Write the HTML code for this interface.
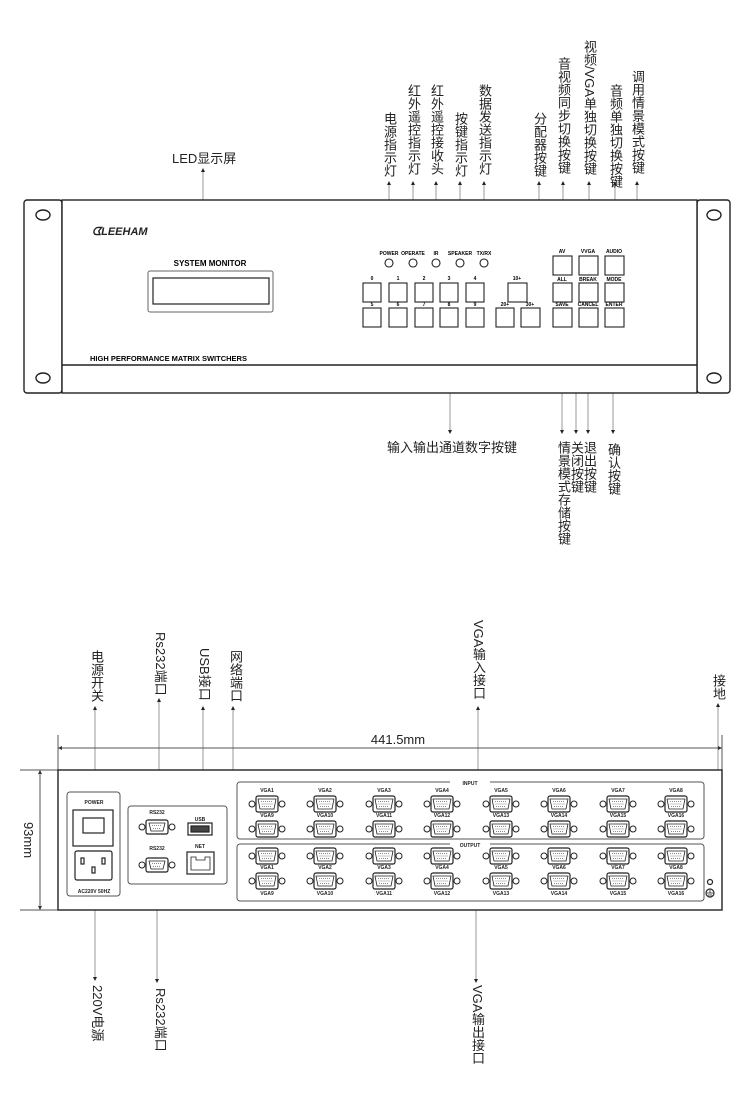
<!DOCTYPE html>
<html><head><meta charset="utf-8"><style>
html,body{margin:0;padding:0;background:#fff;}
#w{position:relative;width:750px;height:1110px;overflow:hidden;font-family:"Liberation Sans","Noto Sans CJK SC",sans-serif;color:#222;}
.v{position:absolute;width:14px;font-size:13px;line-height:14px;writing-mode:vertical-rl;text-orientation:upright;letter-spacing:0;white-space:nowrap;}
.s{text-orientation:sideways;}
.m{text-orientation:mixed;}
.h{position:absolute;font-size:13px;white-space:nowrap;}
svg{position:absolute;left:0;top:0;}
</style></head><body><div id="w">
<svg width="750" height="1110" viewBox="0 0 750 1110" font-family="Liberation Sans, sans-serif">
<defs>
<g id="db">
<circle cx="-15" cy="0" r="3" fill="#fff" stroke="#222" stroke-width="1"/>
<circle cx="15" cy="0" r="3" fill="#fff" stroke="#222" stroke-width="1"/>
<rect x="-11" y="-8" width="22" height="16" rx="2" fill="#fff" stroke="#222" stroke-width="1.2"/>
<path d="M-9,-5 H9 L7,5 H-7 Z" fill="#fff" stroke="#222" stroke-width="0.8"/>
<path d="M-6,-2.5 H6 M-5.5,0 H5.5 M-5,2.5 H5" stroke="#666" stroke-width="0.7" stroke-dasharray="1,1"/>
</g>
<g id="d9">
<circle cx="-15" cy="0" r="3" fill="#fff" stroke="#222" stroke-width="1"/>
<circle cx="15" cy="0" r="3" fill="#fff" stroke="#222" stroke-width="1"/>
<rect x="-11" y="-7" width="22" height="14" rx="2" fill="#fff" stroke="#222" stroke-width="1.2"/>
<path d="M-8,-4 H8 L6,4 H-6 Z" fill="#fff" stroke="#222" stroke-width="0.8"/>
<path d="M-5,-1.5 H5 M-4,1.5 H4" stroke="#666" stroke-width="0.7" stroke-dasharray="1,1"/>
</g>
</defs>
<g stroke="#999" stroke-width="1" fill="none">
<!-- top label lines -->
<path d="M203,170 V263"/>
<path d="M389,183 V248 M413,183 V248 M436,183 V248 M460,183 V248 M484,183 V248"/>
<path d="M539,183 V290 H553"/>
<path d="M563,183 V256 M589,183 V256 M615,183 V256"/>
<path d="M637,183 V290 H623"/>
<path d="M370,327 V347 H530 V327 M450,347 V432"/>
<path d="M562,327 V432 M576,432 V287 H578 M588,327 V432 M613,327 V432"/>
<!-- rear lines -->
<path d="M95,708 V810 M95,880 V978"/>
<path d="M159,700 V820 M157,872 V980"/>
<path d="M203,708 V823 M233,708 V863 H214"/>
<path d="M478,708 V782 M476,901 V980 M718,705 V880"/>
</g>
<g fill="#222">
<path d="M389,181 l-2,4 h4z M413,181 l-2,4 h4z M436,181 l-2,4 h4z M460,181 l-2,4 h4z M484,181 l-2,4 h4z M539,181 l-2,4 h4z M563,181 l-2,4 h4z M589,181 l-2,4 h4z M615,181 l-2,4 h4z M637,181 l-2,4 h4z M203,168 l-2,4 h4z"/>
<path d="M450,434 l-2,-4 h4z M562,434 l-2,-4 h4z M576,434 l-2,-4 h4z M588,434 l-2,-4 h4z M613,434 l-2,-4 h4z"/>
<path d="M95,706 l-2,4 h4z M159,698 l-2,4 h4z M203,706 l-2,4 h4z M233,706 l-2,4 h4z M478,706 l-2,4 h4z M718,703 l-2,4 h4z"/>
<path d="M95,981 l-2,-4 h4z M157,983 l-2,-4 h4z M476,983 l-2,-4 h4z"/>
</g>
<!-- FRONT PANEL -->
<g stroke="#222" fill="#fff" stroke-width="1.4">
<rect x="24" y="200" width="38" height="193" rx="3"/>
<rect x="697" y="200" width="33" height="193" rx="3"/>
<rect x="62" y="200" width="635" height="193"/>
<line x1="62" y1="365" x2="697" y2="365"/>
<ellipse cx="43" cy="215" rx="7" ry="5"/><ellipse cx="43" cy="378" rx="7" ry="5"/>
<ellipse cx="714" cy="215" rx="7" ry="5"/><ellipse cx="714" cy="378" rx="7" ry="5"/>
<rect x="148" y="271" width="125" height="41" rx="2" stroke="#666" stroke-width="1"/>
<rect x="153" y="278" width="116" height="26" stroke-width="1.2"/>
</g>
<text x="92" y="235" font-size="11" font-weight="bold" font-style="italic" fill="#222">ᗧLEEHAM</text>
<text x="210" y="266" font-size="8" font-weight="bold" text-anchor="middle">SYSTEM MONITOR</text>
<text x="90" y="361" font-size="7.5" font-weight="bold">HIGH PERFORMANCE MATRIX SWITCHERS</text>
<g font-size="5" font-weight="bold" text-anchor="middle">
<text x="389" y="255">POWER</text><text x="413" y="255">OPERATE</text><text x="436" y="255">IR</text><text x="460" y="255">SPEAKER</text><text x="484" y="255">TX/RX</text>
<text x="372" y="280">0</text><text x="398" y="280">1</text><text x="424" y="280">2</text><text x="449" y="280">3</text><text x="475" y="280">4</text><text x="517" y="280">10+</text>
<text x="372" y="306">5</text><text x="398" y="306">6</text><text x="424" y="306">7</text><text x="449" y="306">8</text><text x="475" y="306">9</text><text x="505" y="306">20+</text><text x="530" y="306">30+</text>
<text x="562" y="253">AV</text><text x="588" y="253">VVGA</text><text x="614" y="253">AUDIO</text>
<text x="562" y="281">ALL</text><text x="588" y="281">BREAK</text><text x="614" y="281">MODE</text>
<text x="562" y="306">SAVE</text><text x="588" y="306">CANCEL</text><text x="614" y="306">ENTER</text>
</g>
<g fill="#fff" stroke="#222" stroke-width="1.1">
<circle cx="389" cy="263" r="4"/><circle cx="413" cy="263" r="4"/><circle cx="436" cy="263" r="4"/><circle cx="460" cy="263" r="4"/><circle cx="484" cy="263" r="4"/>
<rect x="363" y="283" width="18" height="19"/><rect x="389" y="283" width="18" height="19"/><rect x="415" y="283" width="18" height="19"/><rect x="440" y="283" width="18" height="19"/><rect x="466" y="283" width="18" height="19"/>
<rect x="508" y="283" width="19" height="19"/>
<rect x="363" y="308" width="18" height="19"/><rect x="389" y="308" width="18" height="19"/><rect x="415" y="308" width="18" height="19"/><rect x="440" y="308" width="18" height="19"/><rect x="466" y="308" width="18" height="19"/>
<rect x="496" y="308" width="18" height="19"/><rect x="521" y="308" width="19" height="19"/>
<rect x="553" y="256" width="19" height="19"/><rect x="579" y="256" width="19" height="19"/><rect x="605" y="256" width="19" height="19"/>
<rect x="553" y="283" width="19" height="19"/><rect x="579" y="283" width="19" height="19"/><rect x="605" y="283" width="19" height="19"/>
<rect x="553" y="308" width="19" height="19"/><rect x="579" y="308" width="19" height="19"/><rect x="605" y="308" width="19" height="19"/>
</g>
<!-- DIMENSIONS -->
<g stroke="#555" stroke-width="1" fill="none">
<path d="M58,735 V770 M722,735 V770 M58,748 H722 M20,770 H58 M20,910 H58 M40,770 V910"/>
</g>
<path d="M58,748 l4,-2 v4z M722,748 l-4,-2 v4z M40,770 l-2,4 h4z M40,910 l-2,-4 h4z" fill="#333"/>
<text x="398" y="744" font-size="13" text-anchor="middle" fill="#222">441.5mm</text>
<text transform="translate(24,840) rotate(90)" font-size="13" text-anchor="middle" fill="#222">93mm</text>
<!-- REAR PANEL -->
<rect x="58" y="770" width="664" height="140" fill="#fff" stroke="#222" stroke-width="1.4"/>
<g fill="#fff" stroke="#555" stroke-width="1">
<rect x="67" y="792" width="53" height="104" rx="3"/>
<rect x="128" y="806" width="99" height="78" rx="3"/>
<rect x="237" y="782" width="467" height="57" rx="3"/>
<rect x="237" y="844" width="467" height="57" rx="3"/>
</g>
<g fill="#fff" stroke="#222" stroke-width="1.2">
<rect x="73" y="810" width="40" height="36"/><rect x="83" y="818" width="21" height="15"/>
<rect x="75" y="851" width="37" height="29" rx="2"/>
<rect x="81" y="858" width="3" height="6"/><rect x="102" y="858" width="3" height="6"/><rect x="92" y="867" width="3" height="6"/>
<rect x="188" y="823" width="24" height="12"/><rect x="191" y="826" width="18" height="6" fill="#444"/>
<rect x="187" y="852" width="27" height="22"/><path d="M191,870 V857 H196 V860 H205 V857 H210 V870 Z" stroke-width="0.8"/>
<circle cx="710" cy="882" r="2.5"/><circle cx="710" cy="893" r="4"/>
</g>
<path d="M710,890 v3 M707,893 h6 M708,895 h4" stroke="#222" stroke-width="0.8"/>
<rect x="450" y="779" width="40" height="7" fill="#fff"/><rect x="450" y="841" width="40" height="7" fill="#fff"/>
<g font-size="5" font-weight="bold" text-anchor="middle" fill="#222">
<text x="94" y="804">POWER</text><text x="94" y="893">AC220V  50HZ</text>
<text x="157" y="814">RS232</text><text x="200" y="821">USB</text><text x="157" y="850">RS232</text><text x="200" y="848">NET</text>
<text x="470" y="785">INPUT</text><text x="470" y="847">OUTPUT</text>
<text x="267" y="792">VGA1</text><text x="325" y="792">VGA2</text><text x="384" y="792">VGA3</text><text x="442" y="792">VGA4</text><text x="501" y="792">VGA5</text><text x="559" y="792">VGA6</text><text x="618" y="792">VGA7</text><text x="676" y="792">VGA8</text>
<text x="267" y="817">VGA9</text><text x="325" y="817">VGA10</text><text x="384" y="817">VGA11</text><text x="442" y="817">VGA12</text><text x="501" y="817">VGA13</text><text x="559" y="817">VGA14</text><text x="618" y="817">VGA15</text><text x="676" y="817">VGA16</text>
<text x="267" y="869">VGA1</text><text x="325" y="869">VGA2</text><text x="384" y="869">VGA3</text><text x="442" y="869">VGA4</text><text x="501" y="869">VGA5</text><text x="559" y="869">VGA6</text><text x="618" y="869">VGA7</text><text x="676" y="869">VGA8</text>
<text x="267" y="895">VGA9</text><text x="325" y="895">VGA10</text><text x="384" y="895">VGA11</text><text x="442" y="895">VGA12</text><text x="501" y="895">VGA13</text><text x="559" y="895">VGA14</text><text x="618" y="895">VGA15</text><text x="676" y="895">VGA16</text>
</g>
<use href="#d9" x="157" y="827"/><use href="#d9" x="157" y="865"/>
<g>
<use href="#db" x="267" y="804"/><use href="#db" x="325" y="804"/><use href="#db" x="384" y="804"/><use href="#db" x="442" y="804"/><use href="#db" x="501" y="804"/><use href="#db" x="559" y="804"/><use href="#db" x="618" y="804"/><use href="#db" x="676" y="804"/>
<use href="#db" x="267" y="829"/><use href="#db" x="325" y="829"/><use href="#db" x="384" y="829"/><use href="#db" x="442" y="829"/><use href="#db" x="501" y="829"/><use href="#db" x="559" y="829"/><use href="#db" x="618" y="829"/><use href="#db" x="676" y="829"/>
<use href="#db" x="267" y="856"/><use href="#db" x="325" y="856"/><use href="#db" x="384" y="856"/><use href="#db" x="442" y="856"/><use href="#db" x="501" y="856"/><use href="#db" x="559" y="856"/><use href="#db" x="618" y="856"/><use href="#db" x="676" y="856"/>
<use href="#db" x="267" y="881"/><use href="#db" x="325" y="881"/><use href="#db" x="384" y="881"/><use href="#db" x="442" y="881"/><use href="#db" x="501" y="881"/><use href="#db" x="559" y="881"/><use href="#db" x="618" y="881"/><use href="#db" x="676" y="881"/>
</g>
</svg>
<div class="h" style="left:172px;top:148px;">LED显示屏</div>
<div class="v" style="left:382px;top:112px;">电源指示灯</div>
<div class="v" style="left:406px;top:84px;">红外遥控指示灯</div>
<div class="v" style="left:429px;top:84px;">红外遥控接收头</div>
<div class="v" style="left:453px;top:112px;">按键指示灯</div>
<div class="v" style="left:477px;top:84px;">数据发送指示灯</div>
<div class="v" style="left:532px;top:112px;">分配器按键</div>
<div class="v" style="left:556px;top:57px;">音视频同步切换按键</div>
<div class="v m" style="left:582px;top:40px;">视频/VGA单独切换按键</div>
<div class="v" style="left:608px;top:84px;">音频单独切换按键</div>
<div class="v" style="left:630px;top:70px;">调用情景模式按键</div>
<div class="h" style="left:387px;top:437px;">输入输出通道数字按键</div>
<div class="v" style="left:556px;top:441px;">情景模式存储按键</div>
<div class="v" style="left:569px;top:441px;">关闭按键</div>
<div class="v" style="left:582px;top:441px;">退出按键</div>
<div class="v" style="left:606px;top:443px;">确认按键</div>
<div class="v" style="left:89px;top:650px;">电源开关</div>
<div class="v s" style="left:153px;top:632px;">Rs232端口</div>
<div class="v s" style="left:197px;top:648px;">USB接口</div>
<div class="v" style="left:228px;top:650px;">网络端口</div>
<div class="v m" style="left:471px;top:620px;">VGA输入接口</div>
<div class="v" style="left:711px;top:674px;">接地</div>
<div class="v s" style="left:90px;top:985px;">220V电源</div>
<div class="v s" style="left:153px;top:988px;">Rs232端口</div>
<div class="v m" style="left:470px;top:985px;">VGA输出接口</div>
</div></body></html>
